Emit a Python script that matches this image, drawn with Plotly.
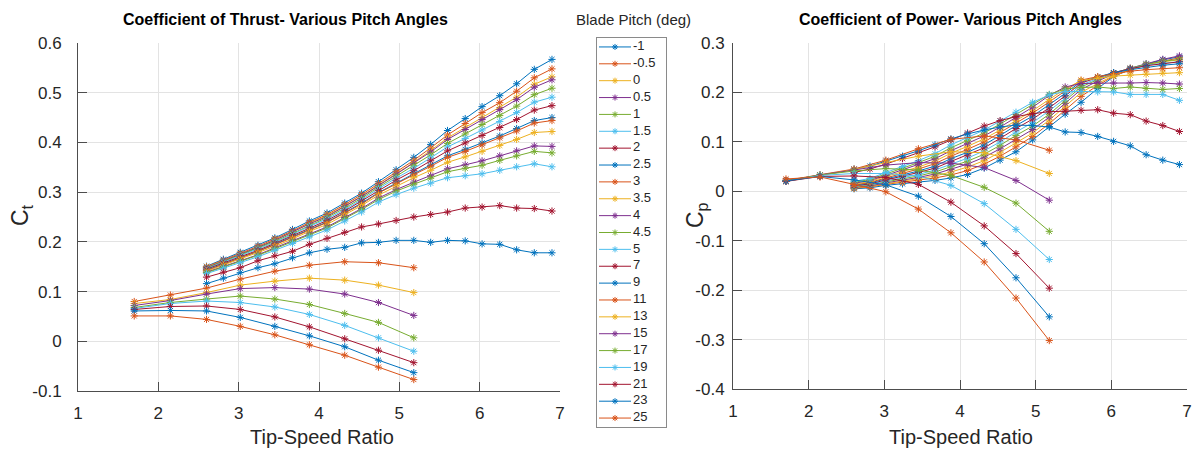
import plotly.graph_objects as go

W, H = 1197, 449

# ---------------- data ----------------
pitch_labels = ["-1", "-0.5", "0", "0.5", "1", "1.5", "2", "2.5", "3", "3.5", "4", "4.5", "5",
                "7", "9", "11", "13", "15", "17", "19", "21", "23", "25"]

tsr_long = [2.6, 2.81, 3.02, 3.24, 3.45, 3.67, 3.88, 4.1, 4.32, 4.53, 4.74, 4.96, 5.18,
            5.39, 5.6, 5.82, 6.03, 6.25, 6.46, 6.68, 6.9]
tsr_short = [1.7, 2.15, 2.6, 3.02, 3.45, 3.88, 4.32, 4.74, 5.18]

# Thrust coefficient
ct_m1 = [0.151, 0.165, 0.179, 0.193, 0.208, 0.225, 0.242, 0.258, 0.278, 0.298, 0.321, 0.345, 0.370, 0.396, 0.424, 0.448, 0.472, 0.494, 0.518, 0.547, 0.567]
ct_m05 = [0.150, 0.163, 0.177, 0.191, 0.206, 0.222, 0.239, 0.255, 0.275, 0.295, 0.317, 0.341, 0.364, 0.389, 0.415, 0.438, 0.460, 0.480, 0.503, 0.530, 0.548]
ct_0 = [0.149, 0.162, 0.176, 0.189, 0.204, 0.220, 0.237, 0.253, 0.272, 0.292, 0.314, 0.337, 0.360, 0.384, 0.409, 0.430, 0.450, 0.470, 0.491, 0.517, 0.532]
ct_05 = [0.148, 0.162, 0.175, 0.189, 0.203, 0.220, 0.236, 0.251, 0.271, 0.291, 0.313, 0.336, 0.358, 0.381, 0.406, 0.426, 0.446, 0.466, 0.486, 0.511, 0.526]
ct_1 = [0.147, 0.160, 0.173, 0.187, 0.201, 0.217, 0.233, 0.249, 0.268, 0.288, 0.310, 0.332, 0.353, 0.375, 0.398, 0.417, 0.436, 0.454, 0.473, 0.496, 0.509]
ct_15 = [0.146, 0.159, 0.172, 0.185, 0.199, 0.215, 0.231, 0.246, 0.265, 0.285, 0.307, 0.328, 0.348, 0.369, 0.391, 0.408, 0.425, 0.442, 0.460, 0.481, 0.491]
ct_2 = [0.145, 0.157, 0.170, 0.183, 0.197, 0.213, 0.228, 0.243, 0.262, 0.282, 0.303, 0.324, 0.343, 0.363, 0.383, 0.399, 0.414, 0.430, 0.446, 0.465, 0.474]
ct_25 = [0.143, 0.155, 0.168, 0.181, 0.195, 0.210, 0.225, 0.240, 0.259, 0.278, 0.299, 0.318, 0.337, 0.354, 0.373, 0.386, 0.399, 0.413, 0.428, 0.444, 0.450]
ct_3 = [0.142, 0.155, 0.167, 0.180, 0.194, 0.209, 0.224, 0.239, 0.258, 0.276, 0.298, 0.317, 0.335, 0.352, 0.370, 0.382, 0.395, 0.409, 0.423, 0.439, 0.444]
ct_35 = [0.141, 0.153, 0.165, 0.178, 0.191, 0.206, 0.221, 0.235, 0.254, 0.273, 0.294, 0.312, 0.329, 0.344, 0.360, 0.371, 0.382, 0.394, 0.406, 0.420, 0.422]
ct_4 = [0.139, 0.150, 0.162, 0.174, 0.188, 0.202, 0.216, 0.230, 0.249, 0.267, 0.288, 0.305, 0.320, 0.333, 0.347, 0.355, 0.363, 0.373, 0.383, 0.393, 0.392]
ct_45 = [0.138, 0.149, 0.161, 0.173, 0.186, 0.201, 0.214, 0.228, 0.247, 0.265, 0.285, 0.302, 0.316, 0.328, 0.341, 0.348, 0.354, 0.364, 0.373, 0.382, 0.379]
ct_5 = [0.136, 0.147, 0.158, 0.170, 0.183, 0.197, 0.210, 0.224, 0.242, 0.260, 0.280, 0.295, 0.308, 0.318, 0.329, 0.333, 0.337, 0.344, 0.351, 0.357, 0.351]
ct_7 = [0.129, 0.139, 0.148, 0.162, 0.172, 0.181, 0.195, 0.207, 0.219, 0.230, 0.236, 0.243, 0.250, 0.255, 0.260, 0.268, 0.270, 0.273, 0.268, 0.267, 0.262]
ct_9 = [0.116, 0.127, 0.138, 0.148, 0.156, 0.168, 0.178, 0.185, 0.189, 0.198, 0.199, 0.203, 0.203, 0.199, 0.203, 0.202, 0.196, 0.195, 0.184, 0.178, 0.178]
ct_11 = [0.080, 0.093, 0.107, 0.125, 0.141, 0.153, 0.160, 0.158, 0.148]
ct_13 = [0.076, 0.084, 0.098, 0.113, 0.121, 0.127, 0.123, 0.113, 0.098]
ct_15p = [0.072, 0.082, 0.095, 0.106, 0.108, 0.105, 0.095, 0.078, 0.052]
ct_17 = [0.068, 0.078, 0.085, 0.091, 0.085, 0.074, 0.056, 0.038, 0.007]
ct_19 = [0.066, 0.076, 0.081, 0.078, 0.069, 0.054, 0.032, 0.007, -0.020]
ct_21 = [0.064, 0.070, 0.071, 0.064, 0.049, 0.029, 0.005, -0.018, -0.043]
ct_23 = [0.061, 0.062, 0.061, 0.048, 0.030, 0.011, -0.011, -0.038, -0.063]
ct_25p = [0.051, 0.051, 0.044, 0.030, 0.013, -0.007, -0.028, -0.052, -0.077]

# Power coefficient
cp_m1 = [0.005, 0.007, 0.012, 0.015, 0.018, 0.022, 0.027, 0.034, 0.047, 0.063, 0.080, 0.104, 0.131, 0.156, 0.180, 0.208, 0.232, 0.247, 0.257, 0.266, 0.272]
cp_m05 = [0.006, 0.009, 0.014, 0.018, 0.022, 0.027, 0.033, 0.042, 0.055, 0.071, 0.090, 0.111, 0.137, 0.165, 0.192, 0.214, 0.233, 0.246, 0.256, 0.263, 0.270]
cp_0 = [0.007, 0.010, 0.015, 0.020, 0.025, 0.031, 0.039, 0.049, 0.062, 0.079, 0.098, 0.118, 0.144, 0.172, 0.200, 0.218, 0.234, 0.246, 0.255, 0.262, 0.266]
cp_05 = [0.008, 0.011, 0.017, 0.022, 0.028, 0.035, 0.044, 0.055, 0.069, 0.086, 0.105, 0.125, 0.150, 0.178, 0.206, 0.223, 0.237, 0.249, 0.258, 0.267, 0.274]
cp_1 = [0.009, 0.013, 0.019, 0.025, 0.031, 0.039, 0.050, 0.061, 0.075, 0.093, 0.113, 0.132, 0.156, 0.183, 0.211, 0.226, 0.239, 0.249, 0.257, 0.263, 0.267]
cp_15 = [0.010, 0.014, 0.021, 0.027, 0.034, 0.043, 0.055, 0.067, 0.082, 0.100, 0.120, 0.139, 0.163, 0.188, 0.215, 0.228, 0.240, 0.248, 0.255, 0.259, 0.262]
cp_2 = [0.011, 0.015, 0.023, 0.030, 0.038, 0.047, 0.060, 0.073, 0.088, 0.107, 0.127, 0.146, 0.169, 0.193, 0.219, 0.230, 0.240, 0.248, 0.254, 0.258, 0.262]
cp_25 = [0.012, 0.017, 0.025, 0.033, 0.041, 0.051, 0.066, 0.079, 0.094, 0.113, 0.133, 0.152, 0.175, 0.198, 0.222, 0.231, 0.240, 0.246, 0.251, 0.255, 0.258]
cp_3 = [0.013, 0.018, 0.027, 0.036, 0.045, 0.056, 0.071, 0.085, 0.100, 0.119, 0.138, 0.158, 0.181, 0.203, 0.225, 0.232, 0.238, 0.243, 0.246, 0.248, 0.250]
cp_35 = [0.014, 0.020, 0.030, 0.039, 0.049, 0.061, 0.077, 0.091, 0.106, 0.124, 0.143, 0.163, 0.186, 0.207, 0.224, 0.229, 0.233, 0.235, 0.237, 0.239, 0.240]
cp_4 = [0.016, 0.022, 0.032, 0.043, 0.054, 0.066, 0.082, 0.097, 0.112, 0.130, 0.149, 0.170, 0.194, 0.211, 0.218, 0.219, 0.219, 0.219, 0.220, 0.219, 0.217]
cp_45 = [0.018, 0.024, 0.035, 0.046, 0.058, 0.071, 0.088, 0.103, 0.118, 0.136, 0.155, 0.176, 0.196, 0.207, 0.210, 0.211, 0.208, 0.211, 0.208, 0.206, 0.208]
cp_5 = [0.020, 0.026, 0.038, 0.050, 0.062, 0.076, 0.094, 0.109, 0.124, 0.142, 0.160, 0.180, 0.195, 0.202, 0.202, 0.201, 0.201, 0.196, 0.196, 0.196, 0.184]
cp_7 = [0.038, 0.045, 0.055, 0.066, 0.078, 0.090, 0.104, 0.118, 0.132, 0.143, 0.151, 0.157, 0.161, 0.162, 0.164, 0.165, 0.158, 0.155, 0.142, 0.133, 0.121]
cp_9 = [0.045, 0.051, 0.061, 0.071, 0.082, 0.094, 0.106, 0.116, 0.124, 0.130, 0.134, 0.133, 0.130, 0.120, 0.119, 0.111, 0.101, 0.092, 0.074, 0.063, 0.054]
cp_11 = [0.022, 0.033, 0.045, 0.063, 0.086, 0.105, 0.112, 0.104, 0.083]
cp_13 = [0.020, 0.032, 0.044, 0.058, 0.071, 0.080, 0.078, 0.062, 0.036]
cp_15p = [0.021, 0.033, 0.043, 0.053, 0.058, 0.057, 0.048, 0.022, -0.018]
cp_17 = [0.021, 0.033, 0.041, 0.046, 0.043, 0.032, 0.008, -0.024, -0.081]
cp_19 = [0.020, 0.032, 0.036, 0.036, 0.031, 0.012, -0.025, -0.077, -0.138]
cp_21 = [0.020, 0.030, 0.031, 0.028, 0.014, -0.022, -0.070, -0.126, -0.196]
cp_23 = [0.021, 0.030, 0.023, 0.013, -0.010, -0.051, -0.106, -0.175, -0.254]
cp_25p = [0.025, 0.029, 0.014, -0.001, -0.036, -0.084, -0.143, -0.216, -0.302]

ct_ticks = [-0.1, 0, 0.1, 0.2, 0.3, 0.4, 0.5, 0.6]
ct_tick_text = ["-0.1", "0", "0.1", "0.2", "0.3", "0.4", "0.5", "0.6"]
cp_ticks = [-0.4, -0.3, -0.2, -0.1, 0, 0.1, 0.2, 0.3]
cp_tick_text = ["-0.4", "-0.3", "-0.2", "-0.1", "0", "0.1", "0.2", "0.3"]
x_ticks = [1, 2, 3, 4, 5, 6, 7]

ct_all = [ct_m1, ct_m05, ct_0, ct_05, ct_1, ct_15, ct_2, ct_25, ct_3, ct_35, ct_4, ct_45, ct_5,
          ct_7, ct_9, ct_11, ct_13, ct_15p, ct_17, ct_19, ct_21, ct_23, ct_25p]
cp_all = [cp_m1, cp_m05, cp_0, cp_05, cp_1, cp_15, cp_2, cp_25, cp_3, cp_35, cp_4, cp_45, cp_5,
          cp_7, cp_9, cp_11, cp_13, cp_15p, cp_17, cp_19, cp_21, cp_23, cp_25p]

# ---------------- style ----------------
colors = ["#0072BD", "#D95319", "#EDB120", "#7E2F8E", "#77AC30", "#4DBEEE", "#A2142F"]
FONT = "Liberation Sans, Arial, sans-serif"
AXC = "#4d4d4d"
GRID = "#e3e3e3"
TXT = "#262626"

fig = go.Figure()

for i, lab in enumerate(pitch_labels):
    c = colors[i % 7]
    xs = tsr_long if len(ct_all[i]) == len(tsr_long) else tsr_short
    common = dict(mode="lines+markers", showlegend=False, name=lab,
                  line=dict(color=c, width=1),
                  marker=dict(symbol="asterisk-open", size=6, color=c, line=dict(color=c, width=1)))
    fig.add_trace(go.Scatter(x=xs, y=ct_all[i], xaxis="x", yaxis="y", **common))
    fig.add_trace(go.Scatter(x=xs, y=cp_all[i], xaxis="x2", yaxis="y2", **common))

# custom legend (sample line + marker + label per pitch)
for i, lab in enumerate(pitch_labels):
    c = colors[i % 7]
    fig.add_trace(go.Scatter(x=[2, 34], y=[i, i], mode="lines", xaxis="x3", yaxis="y3",
                             line=dict(color=c, width=1), showlegend=False, hoverinfo="skip"))
    fig.add_trace(go.Scatter(x=[18], y=[i], mode="markers", xaxis="x3", yaxis="y3",
                             marker=dict(symbol="asterisk-open", size=5, color=c, line=dict(color=c, width=1)),
                             showlegend=False, hoverinfo="skip"))
fig.add_trace(go.Scatter(x=[36] * len(pitch_labels), y=list(range(len(pitch_labels))), mode="text",
                         text=pitch_labels, textposition="middle right", xaxis="x3", yaxis="y3",
                         textfont=dict(family=FONT, size=13, color=TXT), showlegend=False, hoverinfo="skip"))

def xax(domain):
    return dict(domain=domain, range=[1, 7], tickvals=x_ticks, ticktext=[str(v) for v in x_ticks],
                showgrid=True, gridcolor=GRID, gridwidth=1, zeroline=False,
                showline=True, linecolor=AXC, linewidth=1, ticks="inside", ticklen=9,
                tickcolor=AXC, ticklabelstandoff=7, tickfont=dict(family=FONT, size=17, color=TXT))

def yax(domain, rng, tv, tt, anchor, standoff):
    return dict(domain=domain, range=rng, tickvals=tv, ticktext=tt, anchor=anchor,
                showgrid=True, gridcolor=GRID, gridwidth=1, zeroline=False,
                showline=True, linecolor=AXC, linewidth=1, ticks="inside", ticklen=9,
                tickcolor=AXC, ticklabelstandoff=standoff, tickfont=dict(family=FONT, size=17, color=TXT))

def px_x(a, b):
    return [a / W, b / W]

def px_y(top, bottom):
    return [1 - bottom / H, 1 - top / H]

layout = dict(
    width=W, height=H, paper_bgcolor="white", plot_bgcolor="white",
    margin=dict(l=0, r=0, t=0, b=0, autoexpand=False),
    xaxis=dict(xax(px_x(78, 560)), anchor="y"),
    yaxis=yax(px_y(43, 391), [-0.1, 0.6], ct_ticks, ct_tick_text, "x", 12),
    xaxis2=dict(xax(px_x(733, 1187)), anchor="y2"),
    yaxis2=yax(px_y(43, 389), [-0.4, 0.3], cp_ticks, cp_tick_text, "x2", 4),
    xaxis3=dict(domain=px_x(597, 666), range=[0, 69], anchor="y3", showgrid=False, zeroline=False,
                showticklabels=False, ticks="", showline=True, mirror=True, linecolor="#8a8a8a", linewidth=1),
    yaxis3=dict(domain=px_y(38, 427), range=[22.53, -0.53], anchor="x3", showgrid=False, zeroline=False,
                showticklabels=False, ticks="", showline=True, mirror=True, linecolor="#8a8a8a", linewidth=1),
    showlegend=False,
)
fig.update_layout(**layout)

def ann(text, x, y, size, bold=False, angle=0):
    t = "<b>" + text + "</b>" if bold else text
    return dict(text=t, x=x / W, y=1 - y / H, xref="paper", yref="paper", showarrow=False,
                xanchor="center", yanchor="middle", textangle=angle,
                font=dict(family=FONT, size=size, color="#000000" if bold else TXT))

fig.update_layout(annotations=[
    ann("Coefficient of Thrust- Various Pitch Angles", 285, 20, 16, bold=True),
    ann("Coefficient of Power- Various Pitch Angles", 960, 20, 16, bold=True),
    ann("Blade Pitch (deg)", 633, 20, 15),
    ann("Tip-Speed Ratio", 322, 437, 20),
    ann("Tip-Speed Ratio", 961, 437, 20),
    ann("C<sub>t</sub>", 22, 215, 23, angle=-90),
    ann("C<sub>p</sub>", 697, 215, 23, angle=-90),
])

fig.write_html("out.html", config={"displayModeBar": False},
               post_script="document.body.style.margin='0px';")
